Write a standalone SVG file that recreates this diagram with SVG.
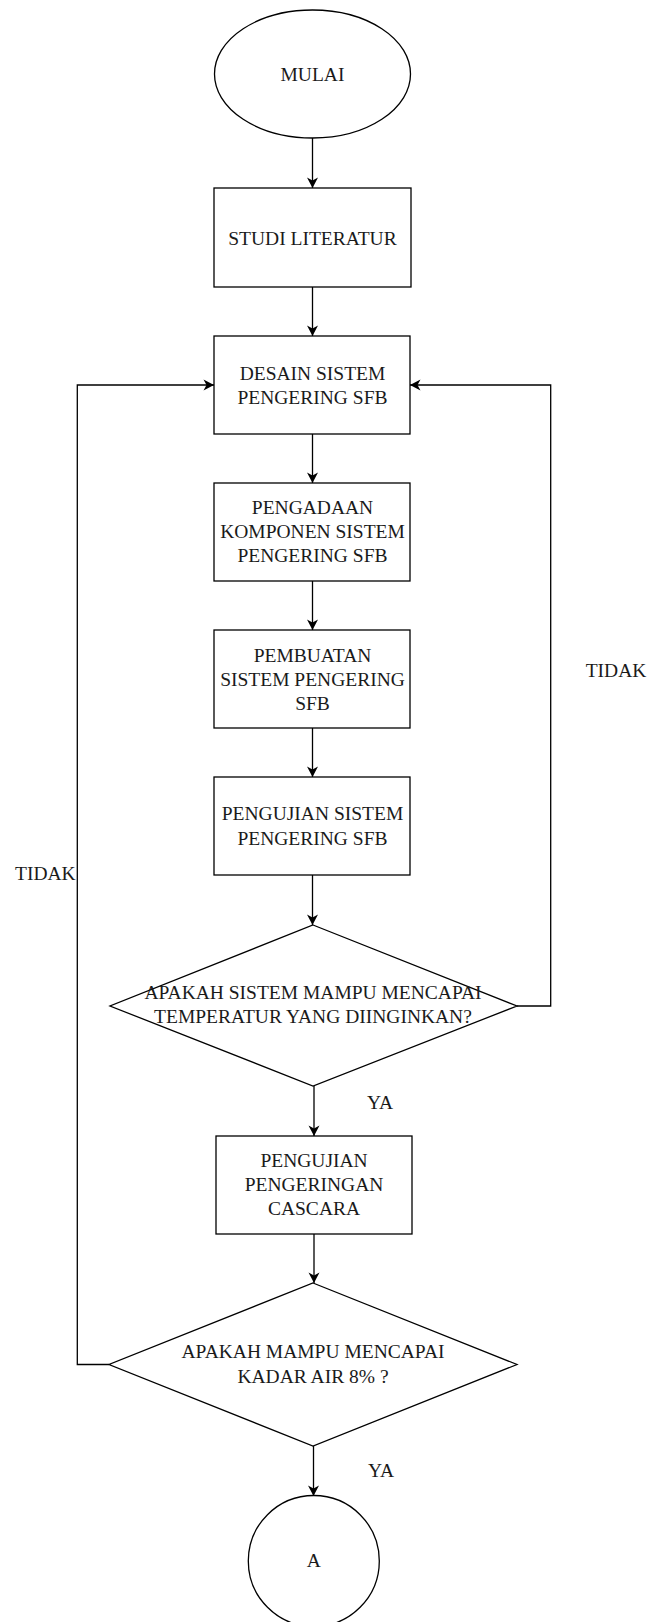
<svg xmlns="http://www.w3.org/2000/svg" width="651" height="1622" viewBox="0 0 651 1622">
<style>
.s{fill:#fff;stroke:#000;stroke-width:1.3}
.c{fill:none;stroke:#000;stroke-width:1.3}
text{font-family:"Liberation Serif","Times New Roman",serif;font-size:19.5px;fill:#1a1a1a}
.m{text-anchor:middle}
</style>
<defs>
<marker id="arr" markerUnits="userSpaceOnUse" markerWidth="14" markerHeight="14" viewBox="-12 -7 14 14" refX="0" refY="0" orient="auto">
<path d="M0,0 L-10.5,-5.5 L-7.5,0 L-10.5,5.5 Z" fill="#000"/>
</marker>
</defs>
<rect width="651" height="1622" fill="#fff"/>
<g id="connectors">
<path class="c" d="M312.5,138 V188" marker-end="url(#arr)"/>
<path class="c" d="M312.5,287 V336" marker-end="url(#arr)"/>
<path class="c" d="M312.5,434 V483" marker-end="url(#arr)"/>
<path class="c" d="M312.5,581 V630" marker-end="url(#arr)"/>
<path class="c" d="M312.5,728 V777" marker-end="url(#arr)"/>
<path class="c" d="M312.5,875 V925" marker-end="url(#arr)"/>
<path class="c" d="M517,1006 H550.7 V385 H410" marker-end="url(#arr)"/>
<path class="c" d="M314,1086 V1136" marker-end="url(#arr)"/>
<path class="c" d="M314,1234 V1283" marker-end="url(#arr)"/>
<path class="c" d="M109,1364.5 H77.3 V385 H214" marker-end="url(#arr)"/>
<path class="c" d="M313.5,1446 V1496" marker-end="url(#arr)"/>
<text x="616" y="677" class="m">TIDAK</text>
<text x="15" y="880">TIDAK</text>
<text x="367" y="1109">YA</text>
<text x="368" y="1477">YA</text>
</g>
<g id="mulai">
<ellipse class="s" cx="312.5" cy="74" rx="98" ry="64"/>
<text x="312.5" y="81" class="m">MULAI</text>
</g>
<g id="studi">
<rect class="s" x="214" y="188" width="197" height="99"/>
<text x="312.5" y="245" class="m">STUDI LITERATUR</text>
</g>
<g id="desain">
<rect class="s" x="214" y="336" width="196" height="98"/>
<text x="312.5" y="380" class="m">DESAIN SISTEM</text>
<text x="312.5" y="404" class="m">PENGERING SFB</text>
</g>
<g id="pengadaan">
<rect class="s" x="214" y="483" width="196" height="98"/>
<text x="312.5" y="514" class="m">PENGADAAN</text>
<text x="312.5" y="538" class="m">KOMPONEN SISTEM</text>
<text x="312.5" y="562" class="m">PENGERING SFB</text>
</g>
<g id="pembuatan">
<rect class="s" x="214" y="630" width="196" height="98"/>
<text x="312.5" y="662" class="m">PEMBUATAN</text>
<text x="312.5" y="686" class="m">SISTEM PENGERING</text>
<text x="312.5" y="710" class="m">SFB</text>
</g>
<g id="pengujian">
<rect class="s" x="214" y="777" width="196" height="98"/>
<text x="312.5" y="820" class="m">PENGUJIAN SISTEM</text>
<text x="312.5" y="845" class="m">PENGERING SFB</text>
</g>
<g id="decision1">
<polygon class="s" points="313,925 517,1006 313,1086 110,1006"/>
<text x="313" y="999" class="m">APAKAH SISTEM MAMPU MENCAPAI</text>
<text x="313" y="1023" class="m">TEMPERATUR YANG DIINGINKAN?</text>
</g>
<g id="pengeringan">
<rect class="s" x="216" y="1136" width="196" height="98"/>
<text x="314" y="1167" class="m">PENGUJIAN</text>
<text x="314" y="1191" class="m">PENGERINGAN</text>
<text x="314" y="1215" class="m">CASCARA</text>
</g>
<g id="decision2">
<polygon class="s" points="313,1283 517,1364.5 313,1446 109,1364.5"/>
<text x="313" y="1358" class="m">APAKAH MAMPU MENCAPAI</text>
<text x="313" y="1383" class="m">KADAR AIR 8% ?</text>
</g>
<g id="a">
<circle class="s" cx="313.8" cy="1561" r="65.5"/>
<text x="313.8" y="1567" class="m">A</text>
</g>
</svg>
